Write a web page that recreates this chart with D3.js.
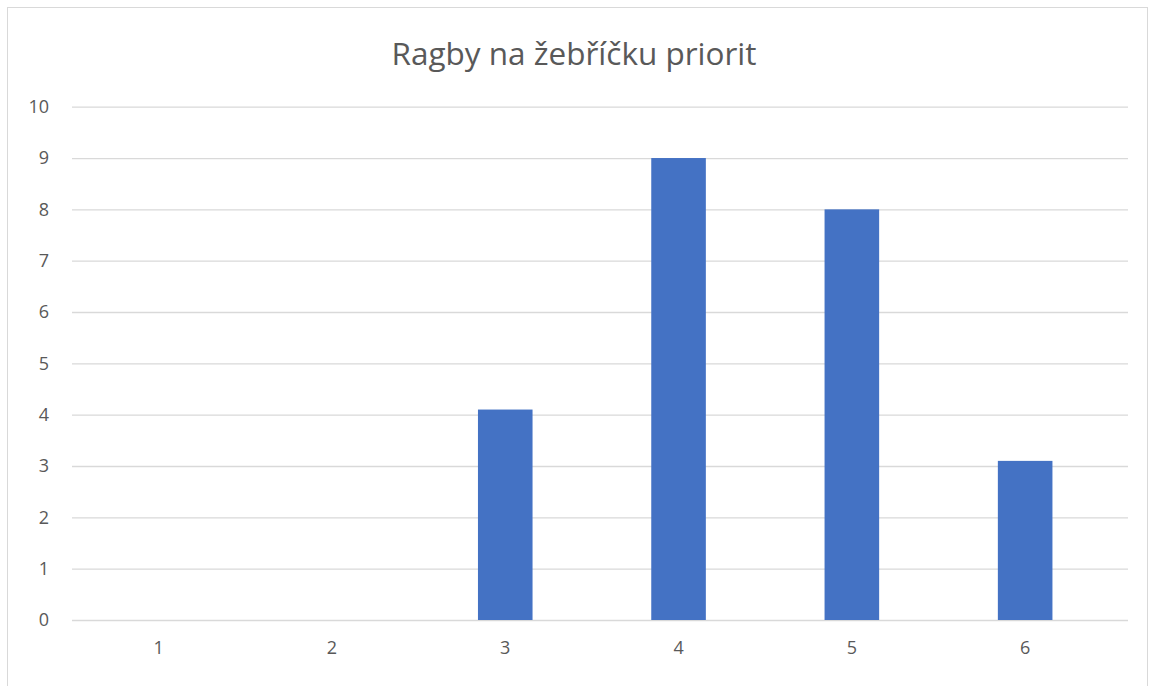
<!DOCTYPE html>
<html>
<head>
<meta charset="utf-8">
<script src="https://cdn.jsdelivr.net/npm/d3@7"></script>
<style>
  body { margin: 0; background: #fff; }
  svg { display: block; font-family: "Open Sans", "Noto Sans", sans-serif; }
</style>
</head>
<body>
<div id="chart"></div>
<script>
// Data
const categories = ["1", "2", "3", "4", "5", "6"];
const values = [0, 0, 4.1, 9, 8, 3.1];
const yTicks = [0, 1, 2, 3, 4, 5, 6, 7, 8, 9, 10];
const title = "Ragby na žebříčku priorit";

const width = 1157;
const height = 686;
const plot = { left: 72, right: 1128, top: 106.7, bottom: 620 };
const step = 173.3;

const svg = d3.select("#chart")
  .append("svg")
  .attr("width", width)
  .attr("height", height);

// outer chart border
svg.append("rect")
  .attr("x", 7.5).attr("y", 7.5)
  .attr("width", 1140).attr("height", 700)
  .attr("fill", "none")
  .attr("stroke", "#d9d9d9");

// title
svg.append("text")
  .attr("x", 574).attr("y", 65)
  .attr("text-anchor", "middle")
  .attr("font-size", 31.5)
  .attr("fill", "#595959")
  .text(title);

const x = d3.scaleBand()
  .domain(categories)
  .range([plot.left, plot.left + step * categories.length])
  .paddingInner(0.685)
  .paddingOuter(0.3425);

const y = d3.scaleLinear()
  .domain([0, 10])
  .range([plot.bottom, plot.top]);

// gridlines + y labels
const yAxis = svg.append("g")
  .attr("transform", `translate(${plot.left},0)`)
  .call(d3.axisLeft(y).tickValues(yTicks)
    .tickSize(-(plot.right - plot.left))
    .tickPadding(23)
    .tickFormat(d3.format("d")));
yAxis.select(".domain").remove();
yAxis.selectAll(".tick line").attr("stroke", "#d9d9d9").attr("stroke-width", 1.3);
yAxis.selectAll(".tick text")
  .attr("fill", "#595959")
  .attr("font-size", 18)
  .attr("font-family", "Open Sans, sans-serif");

// bars
svg.append("g")
  .selectAll("rect")
  .data(values)
  .join("rect")
  .attr("x", (d, i) => x(categories[i]))
  .attr("y", d => y(d))
  .attr("width", x.bandwidth())
  .attr("height", d => y(0) - y(d))
  .attr("fill", "#4472c4");

// x labels
const xAxis = svg.append("g")
  .attr("transform", `translate(0,${plot.bottom})`)
  .call(d3.axisBottom(x).tickSize(0).tickPadding(21));
xAxis.select(".domain").remove();
xAxis.selectAll(".tick text")
  .attr("fill", "#595959")
  .attr("font-size", 18)
  .attr("font-family", "Open Sans, sans-serif");
</script>
</body>
</html>
